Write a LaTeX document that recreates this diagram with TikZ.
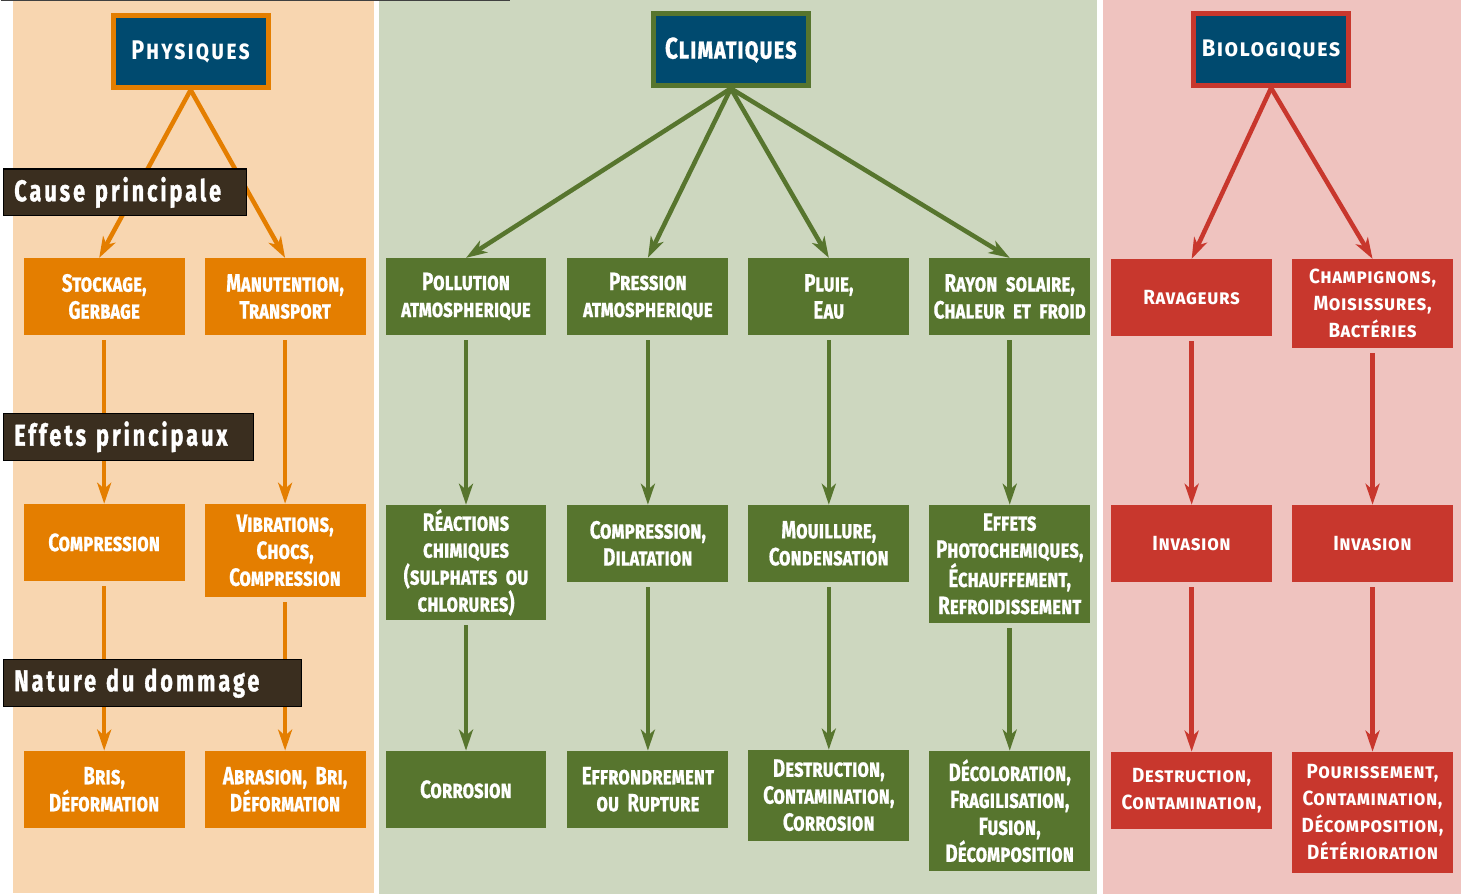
\documentclass[tikz,border=0pt]{standalone}
\usepackage{fontspec}
\setmainfont{Fira Sans}
\newfontfamily\condfont[FakeStretch=0.75,FakeBold=0.6]{Fira Sans}
\newfontfamily\tagfont[FakeStretch=0.72,LetterSpace=10,WordSpace=1.8,FakeBold=1.2]{Fira Sans}
\newfontfamily\titlefont[FakeStretch=0.8,LetterSpace=8]{Fira Sans}
\newfontfamily\widefont[FakeStretch=0.92,LetterSpace=3]{Fira Sans}
\usetikzlibrary{arrows.meta}

\definecolor{orpanel}{HTML}{F8D6B0}
\definecolor{orbox}{HTML}{E47E00}
\definecolor{grpanel}{HTML}{CDD7BF}
\definecolor{grbox}{HTML}{57752E}
\definecolor{rdpanel}{HTML}{EFC3BF}
\definecolor{rdbox}{HTML}{C8372D}
\definecolor{navy}{HTML}{004A6F}
\definecolor{tagbrown}{HTML}{3A2E1F}

\begin{document}
\begin{tikzpicture}[x=1pt, y=-1pt,
	box/.style={anchor=north, minimum width=161, minimum height=77, text width=158,
		align=center, inner sep=0, text=white,
		font=\condfont\bfseries\scshape\fontsize{25}{27}\selectfont},
	obox/.style={box, fill=orbox},
	gbox/.style={box, fill=grbox},
	rbox/.style={box, fill=rdbox, font=\widefont\bfseries\scshape\fontsize{20.5}{27}\selectfont},
	title/.style={fill=navy, line width=5pt, minimum width=155, minimum height=72,
		inner sep=0, text=white},
	etiq/.style={anchor=west, fill=tagbrown, draw=black, line width=1.2pt, text=white,
		minimum height=47, inner xsep=11, inner ysep=0, align=left, text width=#1,
		font=\tagfont\bfseries\fontsize{30}{32}\selectfont},
	arr/.style={-{Stealth[length=21pt,width=14pt,inset=6pt]}, line width=4.5pt},
	down/.style={arr, shorten <=5pt}]

	\fill[white] (0,0) rectangle (1461,894);
	\fill[orpanel] (12,0) rectangle (373,893);
	\fill[grpanel] (378,0) rectangle (1097,894);
	\fill[rdpanel] (1103,0) rectangle (1461,894);
	\draw[line width=1.5pt, black!75] (0,0.75) -- (510,0.75);

	% physiques
	\node[title, draw=orbox, font=\titlefont\bfseries\scshape\fontsize{27}{32}\selectfont] (p0) at (190,51.5) {Physiques};
	\node[obox] (p1) at (103.5,258) {Stockage,\\Gerbage};
	\node[obox] (p2) at (284.5,258) {Manutention,\\Transport};
	\node[obox] (p3) at (103.5,504) {Compression};
	\node[obox, minimum height=93] (p4) at (284.5,504) {Vibrations,\\Chocs,\\Compression};
	\node[obox] (p5) at (103.5,751) {Bris,\\Déformation};
	\node[obox] (p6) at (284.5,751) {Abrasion, Bri,\\Déformation};

	\path [arr, orbox] (p0.south) edge ([xshift=-5]p1.north);
	\path [arr, orbox] (p0.south) edge (p2.north);
	\path [down, orbox] (p1) edge (p3);
	\path [down, orbox] (p2) edge (p4);
	\path [down, orbox] (p3) edge (p5);
	\path [down, orbox] (p4) edge (p6);

	% climatiques
	\node[title, draw=grbox, font=\condfont\bfseries\scshape\fontsize{30}{32}\addfontfeature{LetterSpace=3}] (c0) at (730.5,50) {Climatiques};
	\node[gbox] (c1) at (465.5,258) {Pollution\\atmospherique};
	\node[gbox] (c2) at (647.5,258) {Pression\\atmospherique};
	\node[gbox] (c3) at (828.5,258) {Pluie,\\Eau};
	\node[gbox] (c4) at (1009.5,258) {Rayon solaire,\\Chaleur et froid};
	\node[gbox, minimum height=115] (c5) at (465.5,505) {Réactions\\chimiques\\(sulphates ou\\chlorures)};
	\node[gbox] (c6) at (647.5,505) {Compression,\\Dilatation};
	\node[gbox] (c7) at (828.5,505) {Mouillure,\\Condensation};
	\node[gbox, minimum height=118] (c8) at (1009.5,505) {Effets\\Photochemiques,\\Échauffement,\\Refroidissement};
	\node[gbox] (c9) at (465.5,751) {Corrosion};
	\node[gbox] (c10) at (647.5,751) {Effrondrement\\ou Rupture};
	\node[gbox, minimum height=91] (c11) at (828.5,750) {Destruction,\\Contamination,\\Corrosion};
	\node[gbox, minimum height=120] (c12) at (1009.5,751) {Décoloration,\\Fragilisation,\\Fusion,\\Décomposition};

	\path [arr, grbox] (c0.south) edge (c1.north);
	\path [arr, grbox] (c0.south) edge (c2.north);
	\path [arr, grbox] (c0.south) edge (c3.north);
	\path [arr, grbox] (c0.south) edge (c4.north);
	\path [down, grbox] (c1) edge (c5);
	\path [down, grbox] (c2) edge (c6);
	\path [down, grbox] (c3) edge (c7);
	\path [down, grbox] (c4) edge (c8);
	\path [down, grbox] (c5) edge (c9);
	\path [down, grbox] (c6) edge (c10);
	\path [down, grbox] (c7) edge (c11);
	\path [down, grbox] (c8) edge (c12);

	% biologiques
	\node[title, draw=rdbox, font=\widefont\bfseries\scshape\fontsize{24}{32}\addfontfeature{LetterSpace=6}] (b0) at (1271,49.5) {Biologiques};
	\node[rbox] (b1) at (1191.5,259) {Ravageurs};
	\node[rbox, minimum height=89] (b2) at (1372.5,259) {Champignons,\\Moisissures,\\Bactéries};
	\node[rbox] (b3) at (1191.5,505) {Invasion};
	\node[rbox] (b4) at (1372.5,505) {Invasion};
	\node[rbox] (b5) at (1191.5,752) {Destruction,\\Contamination,};
	\node[rbox, minimum height=121] (b6) at (1372.5,752) {Pourissement,\\Contamination,\\Décomposition,\\Détérioration};

	\path [arr, rdbox] (b0.south) edge (b1.north);
	\path [arr, rdbox] (b0.south) edge (b2.north);
	\path [down, rdbox] (b1) edge (b3);
	\path [down, rdbox] (b2) edge (b4);
	\path [down, rdbox] (b3) edge (b5);
	\path [down, rdbox] (b4) edge (b6);

	% etiquettes
	\node[etiq=221] (t1) at (2,192.5) {Cause principale};
	\node[etiq=228] (t2) at (2,437) {Effets principaux};
	\node[etiq=276] (t3) at (2,683.5) {Nature du dommage};
\end{tikzpicture}
\end{document}
